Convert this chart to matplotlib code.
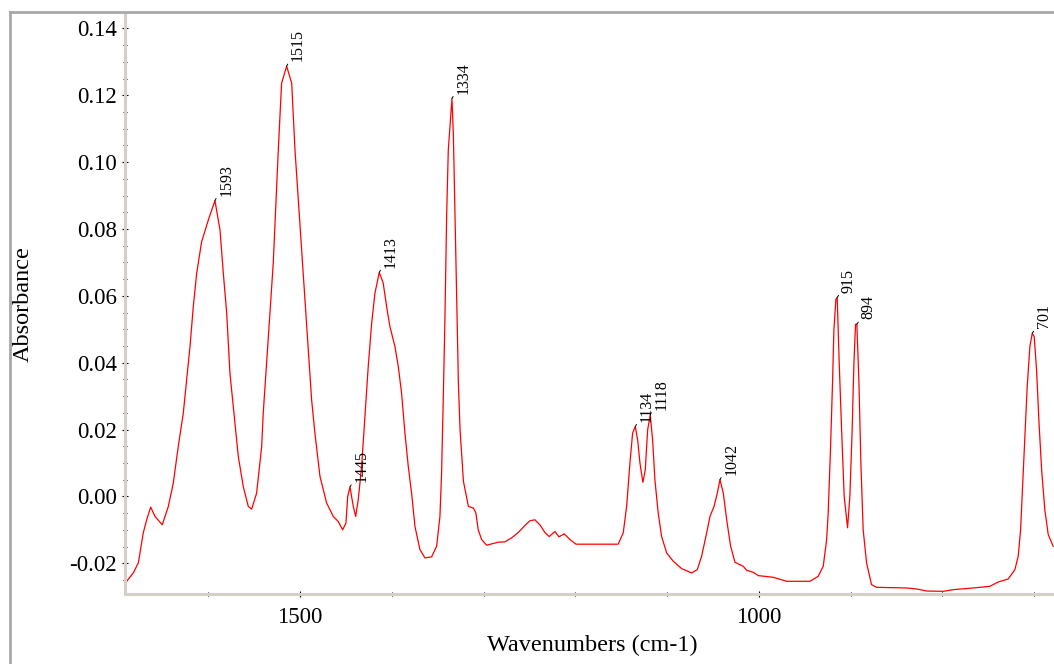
import matplotlib
matplotlib.use("Agg")
import matplotlib.pyplot as plt
from matplotlib.lines import Line2D
from matplotlib.ticker import MultipleLocator, FixedLocator

# spectrum (wavenumber cm-1, absorbance)
wavenumber = [
    1688.8, 1681.6, 1676.1, 1670.7, 1667.0, 1662.6, 1657.9, 1650.0, 1643.4, 1638.0,
    1632.6, 1627.1, 1623.4, 1619.8, 1616.2, 1612.5, 1607.1, 1599.8, 1592.6, 1587.1,
    1583.5, 1579.8, 1576.3, 1572.6, 1567.2, 1561.8, 1556.3, 1552.6, 1547.2, 1541.7,
    1540.0, 1536.3, 1532.7, 1529.1, 1526.5, 1523.6, 1520.0, 1514.5, 1509.0, 1505.4,
    1501.8, 1498.2, 1494.6, 1491.0, 1487.3, 1483.7, 1478.2, 1470.9, 1463.7, 1458.3,
    1453.5, 1449.9, 1448.0, 1445.5, 1441.9, 1439.3, 1436.5, 1432.8, 1429.2, 1425.6,
    1421.9, 1418.3, 1413.6, 1409.3, 1405.6, 1402.0, 1396.5, 1392.9, 1389.3, 1385.6,
    1382.0, 1378.4, 1374.7, 1369.3, 1363.8, 1356.6, 1351.1, 1347.5, 1345.7, 1343.9,
    1342.0, 1340.2, 1338.4, 1335.8, 1334.4, 1332.9, 1331.0, 1329.2, 1327.4, 1325.6,
    1321.9, 1316.5, 1311.0, 1308.3, 1305.8, 1302.1, 1296.6, 1291.2, 1284.0, 1276.7,
    1269.4, 1262.2, 1254.9, 1249.5, 1244.0, 1238.6, 1233.1, 1228.4, 1222.2, 1217.9,
    1212.1, 1205.9, 1199.3, 1187.7, 1173.2, 1153.3, 1147.8, 1144.1, 1140.5, 1137.6,
    1134.7, 1132.1, 1129.6, 1126.4, 1123.8, 1121.2, 1118.4, 1115.8, 1113.3, 1109.7,
    1106.0, 1100.5, 1093.3, 1084.2, 1073.3, 1067.1, 1062.4, 1056.9, 1053.3, 1048.9,
    1045.3, 1042.4, 1038.8, 1035.1, 1030.8, 1026.1, 1017.1, 1013.4, 1006.2, 1000.7,
    984.4, 969.8, 944.4, 935.4, 929.9, 926.2, 924.5, 921.9, 919.7, 918.3,
    916.1, 914.7, 912.5, 909.9, 907.1, 903.4, 900.9, 898.4, 896.5, 894.7,
    893.3, 891.1, 888.9, 886.4, 882.7, 877.3, 871.8, 839.1, 828.2, 817.3,
    799.2, 788.4, 766.6, 748.4, 739.3, 728.4, 721.1, 717.5, 714.9, 712.7,
    710.2, 707.7, 704.8, 702.2, 700.1, 697.5, 695.0, 692.0, 688.5, 684.8,
    679.4,
]
absorbance = [
    -0.0254, -0.0229, -0.0199, -0.0109, -0.0070, -0.0032, -0.0060, -0.0085, -0.0030, 0.0040,
    0.0149, 0.0249, 0.0349, 0.0448, 0.0568, 0.0668, 0.0762, 0.0827, 0.0885, 0.0797,
    0.0668, 0.0548, 0.0369, 0.0269, 0.0120, 0.0030, -0.0030, -0.0038, 0.0010, 0.0149,
    0.0249, 0.0399, 0.0548, 0.0698, 0.0860, 0.1036, 0.1236, 0.1287, 0.1236, 0.1036,
    0.0887, 0.0737, 0.0588, 0.0438, 0.0289, 0.0189, 0.0060, -0.0020, -0.0060, -0.0075,
    -0.0100, -0.0080, 0.0000, 0.0028, -0.0030, -0.0060, -0.0010, 0.0090, 0.0239, 0.0389,
    0.0518, 0.0608, 0.0670, 0.0638, 0.0568, 0.0508, 0.0448, 0.0389, 0.0309, 0.0189,
    0.0090, 0.0010, -0.0090, -0.0159, -0.0184, -0.0181, -0.0149, -0.0060, 0.0070, 0.0289,
    0.0538, 0.0837, 0.1036, 0.1136, 0.1190, 0.1086, 0.0837, 0.0588, 0.0339, 0.0200,
    0.0045, -0.0030, -0.0035, -0.0050, -0.0100, -0.0129, -0.0146, -0.0142, -0.0137, -0.0136,
    -0.0124, -0.0108, -0.0087, -0.0073, -0.0070, -0.0085, -0.0108, -0.0120, -0.0105, -0.0121,
    -0.0112, -0.0129, -0.0143, -0.0143, -0.0143, -0.0143, -0.0109, -0.0030, 0.0100, 0.0189,
    0.0209, 0.0169, 0.0100, 0.0042, 0.0080, 0.0199, 0.0244, 0.0169, 0.0050, -0.0050,
    -0.0120, -0.0169, -0.0194, -0.0216, -0.0229, -0.0219, -0.0179, -0.0109, -0.0060, -0.0030,
    0.0010, 0.0050, 0.0010, -0.0070, -0.0149, -0.0197, -0.0209, -0.0221, -0.0227, -0.0237,
    -0.0242, -0.0254, -0.0254, -0.0239, -0.0209, -0.0129, -0.0050, 0.0149, 0.0349, 0.0498,
    0.0590, 0.0595, 0.0399, 0.0199, 0.0000, -0.0094, 0.0000, 0.0199, 0.0399, 0.0515,
    0.0515, 0.0349, 0.0100, -0.0100, -0.0199, -0.0264, -0.0272, -0.0274, -0.0277, -0.0283,
    -0.0284, -0.0279, -0.0274, -0.0269, -0.0256, -0.0247, -0.0219, -0.0179, -0.0100, 0.0030,
    0.0179, 0.0329, 0.0448, 0.0488, 0.0478, 0.0379, 0.0229, 0.0080, -0.0040, -0.0114,
    -0.0149,
]

# labelled peaks
peak_labels = ["1593", "1515", "1445", "1413", "1334", "1134", "1118", "1042", "915", "894", "701"]
peak_x = [1592.6, 1514.5, 1445.5, 1413.6, 1334.4, 1134.7, 1118.4, 1042.4, 914.7, 893.3, 702.2]
peak_y = [0.0885, 0.1287, 0.0028, 0.0670, 0.1190, 0.0209, 0.0244, 0.0050, 0.0595, 0.0515, 0.0488]

plt.rcParams['font.family'] = ['Liberation Serif', 'DejaVu Serif']

fig = plt.figure(figsize=(10.54, 6.64), dpi=100)
ax = fig.add_axes([125 / 1054, 70 / 664, 929 / 1054, 580 / 664])

ax.plot(wavenumber, absorbance, color="#ff0000", lw=0.9)

for lab, px, py in zip(peak_labels, peak_x, peak_y):
    ax.annotate(lab, xy=(px, py), xytext=(2.5, 3.5), textcoords='offset points',
                rotation=90, ha='left', va='bottom', fontsize=11.5, color='black',
                arrowprops=dict(arrowstyle='-', color='black', lw=0.7,
                                shrinkA=0, shrinkB=0))

ax.set_xlim(1690.6, 678.5)
ax.set_ylim(-0.0292, 0.1443)

ax.xaxis.set_major_locator(FixedLocator([1500, 1000]))
ax.xaxis.set_minor_locator(MultipleLocator(100))
ax.yaxis.set_major_locator(MultipleLocator(0.02))
ax.yaxis.set_minor_locator(MultipleLocator(0.005))
ax.yaxis.set_major_formatter(plt.FuncFormatter(lambda v, p: "%.2f" % v))

ax.tick_params(which='major', direction='inout', length=5, width=0.8, color='black',
               labelsize=16.5, pad=3.5)
ax.tick_params(which='minor', direction='inout', length=2.5, width=0.8, color='black')
ax.tick_params(axis='x', which='major', pad=7)

for side in ['top', 'right']:
    ax.spines[side].set_visible(False)
for side in ['left', 'bottom']:
    ax.spines[side].set_color('#d4d0c8')
    ax.spines[side].set_linewidth(2.2)

ax.set_ylabel("Absorbance", fontsize=17.5)
ax.yaxis.set_label_coords(-0.098, 0.5)
ax.set_xlabel("Wavenumbers (cm-1)", fontsize=17.5)
ax.xaxis.set_label_coords(0.503, -0.071)

# outer panel border
fig.add_artist(Line2D([10 / 1054, 10 / 1054], [0, 652 / 664], color='#a8a8a8', lw=2,
                      transform=fig.transFigure))
fig.add_artist(Line2D([10 / 1054, 1], [652 / 664, 652 / 664], color='#a8a8a8', lw=2,
                      transform=fig.transFigure))

fig.savefig("out.png", dpi=100)
